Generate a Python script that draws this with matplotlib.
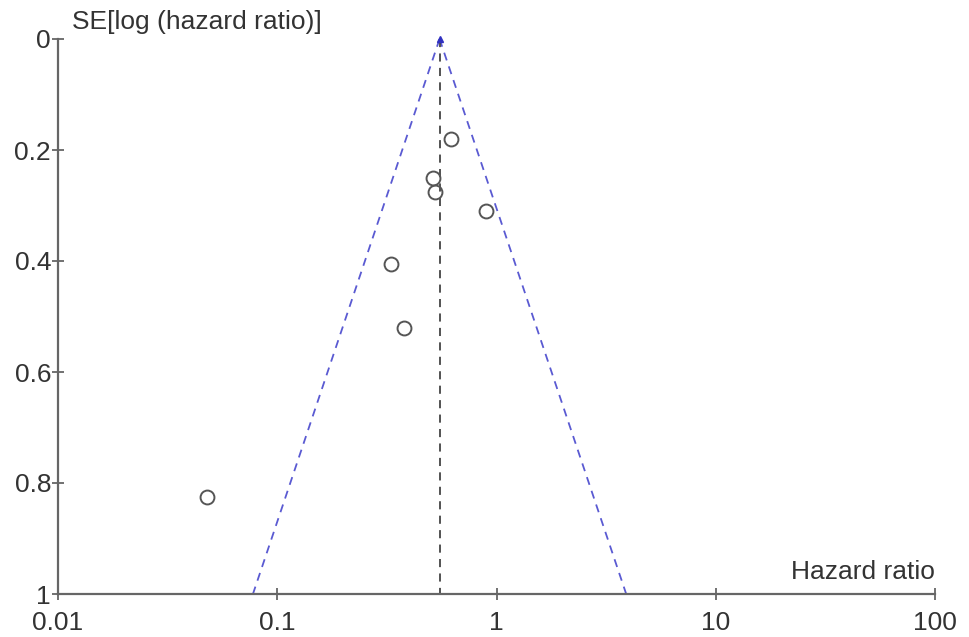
import numpy as np
import matplotlib.pyplot as plt

plt.rcParams.update({
    "font.family": ["Liberation Sans", "DejaVu Sans"],
    "font.size": 19,
})

# ── Data ───────────────────────────────────────────────────────────────────────
hazard_ratio = [0.62, 0.515, 0.525, 0.90, 0.33, 0.38, 0.048]
se_log_hr    = [0.18, 0.25, 0.275, 0.31, 0.405, 0.52, 0.825]
pooled_hr    = 0.55

x_ticks  = [0.01, 0.1, 1, 10, 100]
x_labels = ["0.01", "0.1", "1", "10", "100"]
y_ticks  = [0, 0.2, 0.4, 0.6, 0.8, 1]
y_labels = ["0", "0.2", "0.4", "0.6", "0.8", "1"]

AXIS_COLOR   = "#666666"
TEXT_COLOR   = "#333333"
FUNNEL_COLOR = "#5a5ad2"
MARK_COLOR   = "#555555"

# ── Figure ─────────────────────────────────────────────────────────────────────
fig = plt.figure(figsize=(9.69, 6.37), dpi=100)
ax = fig.add_axes([58 / 969, 1 - 594 / 637, (935 - 58) / 969, (594 - 39) / 637])

# pseudo 95% confidence limits
se_edge = np.array([0.0, 1.0])
ax.plot(pooled_hr * np.exp(-1.96 * se_edge), se_edge, color=FUNNEL_COLOR,
        lw=1.3, dashes=(4.5, 3.5))
ax.plot(pooled_hr * np.exp(1.96 * se_edge), se_edge, color=FUNNEL_COLOR,
        lw=1.3, dashes=(4.5, 3.5))
ax.plot([pooled_hr, pooled_hr], [0, 1], color="#444444", lw=1.3, dashes=(4.5, 3.5))
ax.plot([pooled_hr], [0], marker="^", ms=4, color="#3030c0", clip_on=False)

ax.plot(hazard_ratio, se_log_hr, linestyle="none", marker="o", ms=10,
        mfc="none", mec=MARK_COLOR, mew=1.4, clip_on=False)

ax.set_xscale("log")
ax.set_xlim(0.01, 100)
ax.set_ylim(1, 0)
ax.set_xticks(x_ticks)
ax.set_xticklabels(x_labels)
ax.xaxis.set_minor_locator(plt.NullLocator())
ax.set_yticks(y_ticks)
ax.set_yticklabels(y_labels)

for side in ["top", "right"]:
    ax.spines[side].set_visible(False)
for side in ["left", "bottom"]:
    ax.spines[side].set_color(AXIS_COLOR)
    ax.spines[side].set_linewidth(1.6)

ax.tick_params(direction="inout", length=8, width=1.3, color=AXIS_COLOR,
               labelcolor=TEXT_COLOR, labelsize=19)
ax.tick_params(axis="y", pad=1)
ax.tick_params(axis="x", pad=8)

fig.text(72 / 969, 1 - 22 / 637, "SE[log (hazard ratio)]", ha="left", va="center",
         color=TEXT_COLOR, fontsize=19)
fig.text(935 / 969, 1 - 572 / 637, "Hazard ratio", ha="right", va="center",
         color=TEXT_COLOR, fontsize=19)

fig.savefig("out.png", dpi=100)
